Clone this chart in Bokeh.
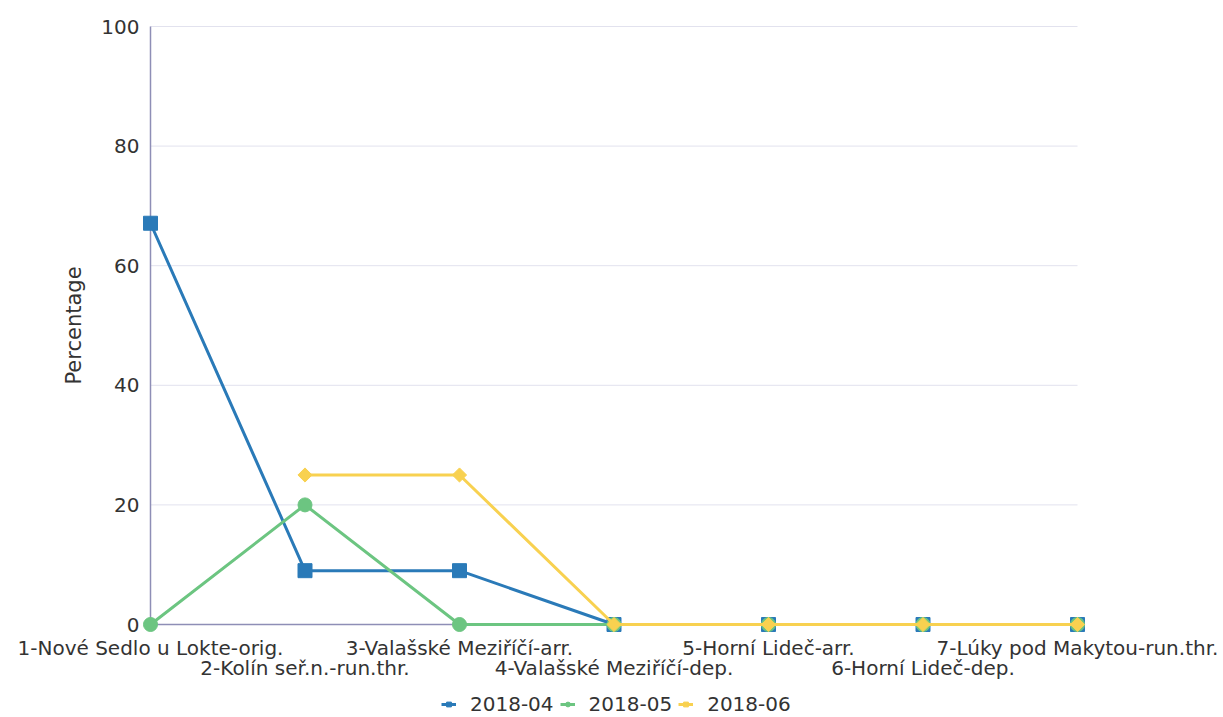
import math
from bokeh.plotting import figure
from bokeh.models import Legend, LegendItem, ColumnDataSource
from bokeh.core.properties import value
from bokeh.embed import file_html
from bokeh.resources import INLINE
import numpy as np

categories = ["1-Nové Sedlo u Lokte-orig.", "2-Kolín seř.n.-run.thr.", "3-Valašské Meziříčí-arr.",
              "4-Valašské Meziříčí-dep.", "5-Horní Lideč-arr.", "6-Horní Lideč-dep.",
              "7-Lúky pod Makytou-run.thr."]
s_2018_04 = [67.1, 9.0, 9.0, 0.0, 0.0, 0.0, 0.0]
s_2018_05 = [0.0, 20.0, 0.0, 0.0, 0.0, 0.0, 0.0]
s_2018_06 = [None, 25.0, 25.0, 0.0, 0.0, 0.0, 0.0]
series_names = ["2018-04", "2018-05", "2018-06"]
y_ticks = [0, 20, 40, 60, 80, 100]
y_title = "Percentage"
colors = ["#2a7ab8", "#6cc581", "#f8d150"]

W, H = 1223, 717
# plot area in canvas pixels (layout)
left_px, right_px, top_px, bottom_px = 150, 1077, 26, 624
n = len(categories) - 1
ymax = y_ticks[-1]
xs = (right_px - left_px) / n
ys = (bottom_px - top_px) / ymax
x_range = (-left_px / xs, n + (W - right_px) / xs)
y_range = (-(H - bottom_px) / ys, ymax + top_px / ys)

p = figure(width=W, height=H, output_backend="svg", toolbar_location=None,
           x_range=x_range, y_range=y_range, min_border=0,
           min_border_left=0, min_border_right=0, min_border_top=0, min_border_bottom=0)
p.outline_line_color = None
p.background_fill_color = "white"
p.axis.visible = False
p.xgrid.grid_line_color = None
p.ygrid.grid_line_color = None

font = "DejaVu Sans"
tick_color = "#333333"
axis_color = "#8e8eb6"

x = list(range(len(categories)))

# grid lines restricted to the plot area
gy = y_ticks[1:]
p.segment(x0=[0] * len(gy), x1=[n] * len(gy), y0=gy, y1=gy,
          line_color="#e2e2ee", line_width=1, level="underlay")
# axis lines
p.segment(x0=[0, 0], y0=[0, 0], x1=[n, 0], y1=[0, ymax],
          line_color=axis_color, line_width=1.5, level="underlay")

# y tick labels
p.text(x=[0] * len(y_ticks), y=y_ticks, text=[str(t) for t in y_ticks],
       x_offset=-11, text_align="right", text_baseline="middle",
       text_font=value(font), text_font_size="20px", text_color=tick_color)

# y axis title
p.text(x=[0], y=[ymax / 2], text=[y_title], angle=math.pi / 2, x_offset=-77,
       text_align="center", text_baseline="middle",
       text_font=value(font), text_font_size="21px", text_color=tick_color)

# x category labels, staggered in two rows
row1 = [i for i in x if i % 2 == 0]
row2 = [i for i in x if i % 2 == 1]
p.text(x=row1, y=[0] * len(row1), text=[categories[i] for i in row1], y_offset=11,
       text_align="center", text_baseline="top",
       text_font=value(font), text_font_size="20px", text_color=tick_color)
p.text(x=row2, y=[0] * len(row2), text=[categories[i] for i in row2], y_offset=31,
       text_align="center", text_baseline="top",
       text_font=value(font), text_font_size="20px", text_color=tick_color)

items = []
data = [s_2018_04, s_2018_05, s_2018_06]
markers = ["square", "circle", "square"]
angles = [0, 0, math.pi / 4]
sizes = [14, 14, 10]
for name, yv0, col, mk, ang, sz in zip(series_names, data, colors, markers, angles, sizes):
    yv = [np.nan if v is None else v for v in yv0]
    src = ColumnDataSource(dict(x=x, y=yv))
    ln = p.line("x", "y", source=src, line_color=col, line_width=3)
    sc = p.scatter("x", "y", source=src, marker=mk, size=sz, angle=ang,
                   fill_color=col, line_color=col)
    items.append(LegendItem(label=name, renderers=[ln, sc]))

legend = Legend(items=items, orientation="horizontal", location=(441, 1),
                label_text_font=font, label_text_font_size="20px", label_text_color=tick_color,
                border_line_color=None, background_fill_alpha=0,
                glyph_width=15, glyph_height=12, spacing=6, label_standoff=14,
                padding=0, margin=0)
p.add_layout(legend, "center")

open("out.html", "w").write(file_html(p, INLINE))
